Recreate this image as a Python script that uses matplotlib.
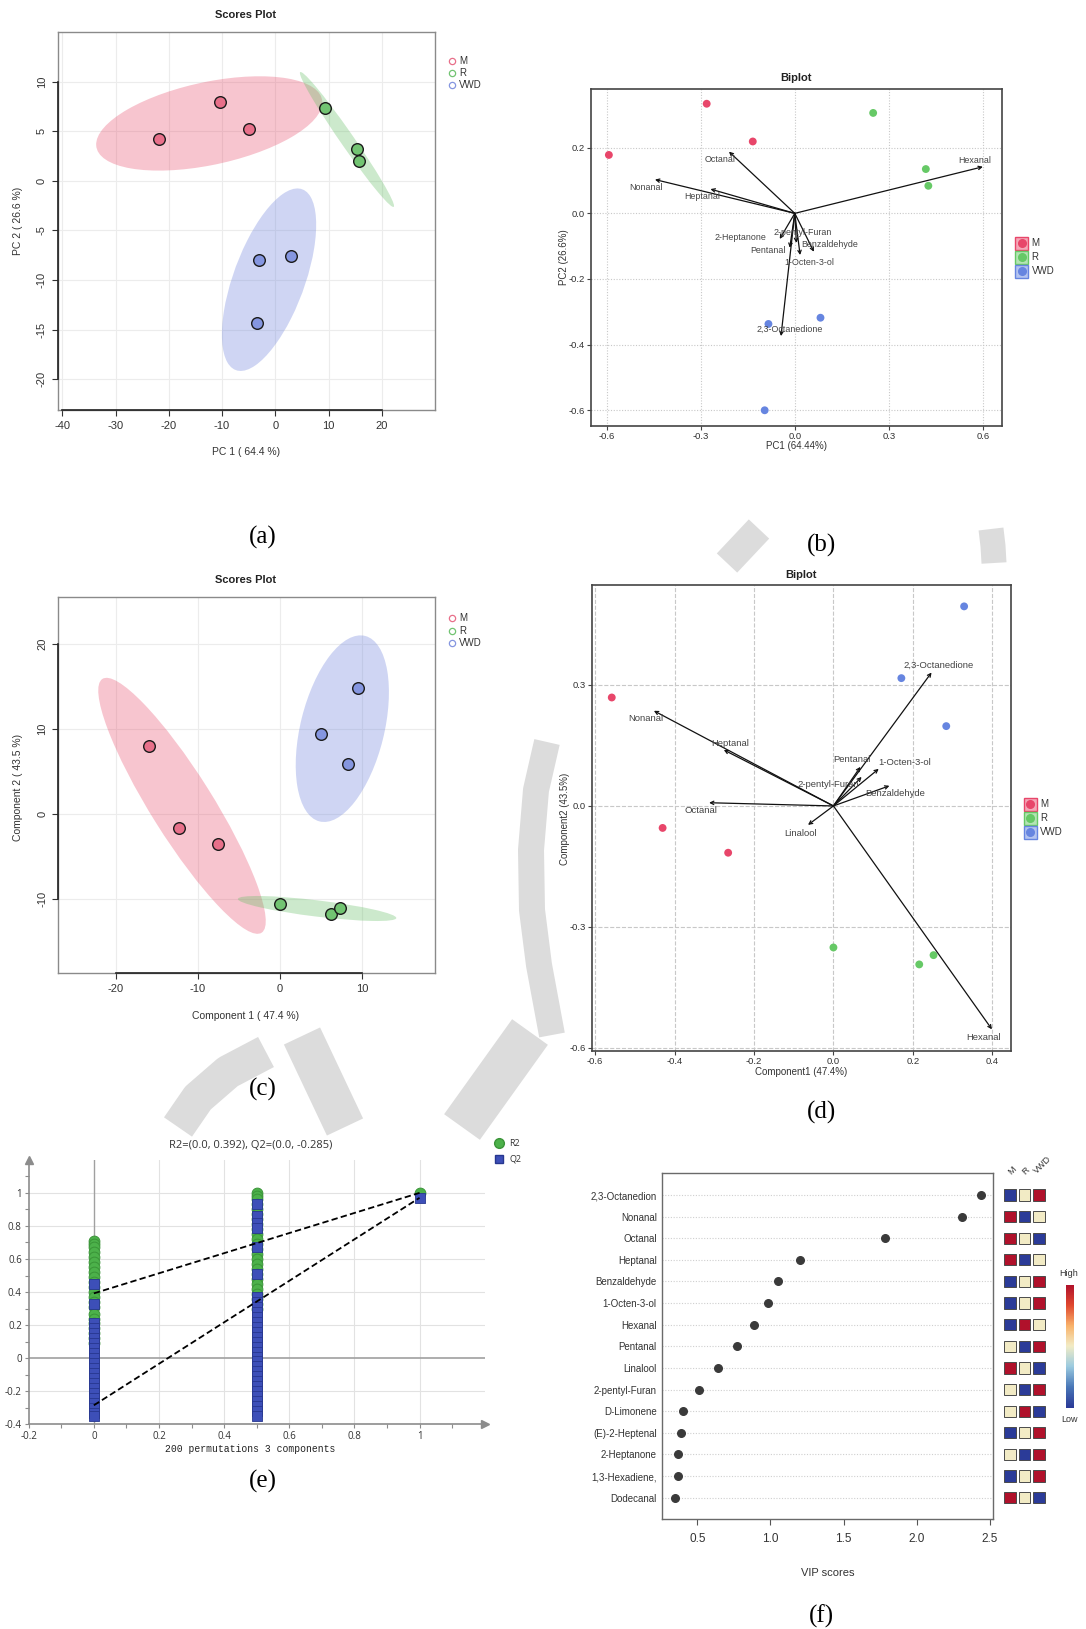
import numpy as np
import matplotlib
matplotlib.use('Agg')
import matplotlib.pyplot as plt
from matplotlib.patches import Ellipse, Rectangle, Polygon
from matplotlib.lines import Line2D
from matplotlib.colors import LinearSegmentedColormap

plt.rcParams['font.family'] = ['Liberation Sans', 'DejaVu Sans']

# ---------------- data ----------------
groups = ['M', 'R', 'VWD']

# (a) PCA scores plot
a_x = {'M': [-21.9, -10.4, -4.9], 'R': [9.3, 15.4, 15.7], 'VWD': [-3.0, 3.0, -3.5]}
a_y = {'M': [4.2, 7.95, 5.2], 'R': [7.3, 3.2, 2.0], 'VWD': [-8.0, -7.6, -14.3]}

# (b) PCA biplot
b_x = {'M': [-0.593, -0.281, -0.134], 'R': [0.25, 0.418, 0.426], 'VWD': [-0.084, 0.082, -0.096]}
b_y = {'M': [0.178, 0.334, 0.219], 'R': [0.306, 0.135, 0.084], 'VWD': [-0.337, -0.318, -0.6]}
b_names = ['Hexanal', 'Octanal', 'Nonanal', 'Heptanal', '2-Heptanone', '2-pentyl-Furan',
           'Pentanal', 'Benzaldehyde', '1-Octen-3-ol', '2,3-Octanedione']
b_load_x = [0.6, -0.21, -0.446, -0.269, -0.048, 0.005, -0.016, 0.061, 0.017, -0.044]
b_load_y = [0.142, 0.188, 0.103, 0.074, -0.078, -0.09, -0.105, -0.117, -0.127, -0.374]

# (c) PLS-DA scores plot
c_x = {'M': [-15.9, -12.3, -7.6], 'R': [0.0, 6.2, 7.3], 'VWD': [9.5, 5.0, 8.2]}
c_y = {'M': [8.0, -1.6, -3.45], 'R': [-10.5, -11.7, -11.05], 'VWD': [14.8, 9.45, 5.9]}

# (d) PLS-DA biplot
d_x = {'M': [-0.558, -0.430, -0.265], 'R': [0.0, 0.216, 0.252], 'VWD': [0.329, 0.171, 0.284]}
d_y = {'M': [0.269, -0.0545, -0.116], 'R': [-0.351, -0.393, -0.370], 'VWD': [0.495, 0.317, 0.198]}
d_names = ['2,3-Octanedione', 'Nonanal', 'Heptanal', 'Pentanal', '1-Octen-3-ol',
           '2-pentyl-Furan', 'Benzaldehyde', 'Octanal', 'Linalool', 'Hexanal']
d_load_x = [0.247, -0.452, -0.276, 0.068, 0.114, 0.071, 0.141, -0.313, -0.064, 0.399]
d_load_y = [0.331, 0.236, 0.139, 0.097, 0.092, 0.072, 0.05, 0.008, -0.047, -0.554]

# (e) permutation test
perm_R2_x0 = [0.71, 0.69, 0.67, 0.64, 0.61, 0.58, 0.55, 0.52, 0.49, 0.46, 0.43, 0.40, 0.37,
              0.34, 0.31, 0.27, 0.24, 0.21, 0.18, 0.15, 0.12, 0.09]
perm_Q2_x0 = [0.45, 0.33, 0.21, 0.18, 0.15, 0.12, 0.09, 0.06, 0.03, 0.0, -0.03, -0.06, -0.09,
              -0.12, -0.15, -0.18, -0.21, -0.24, -0.27, -0.30, -0.33, -0.35]
perm_R2_x05 = [1.0, 0.98, 0.96, 0.93, 0.90, 0.87, 0.84, 0.81, 0.78, 0.75, 0.72, 0.69, 0.66,
               0.63, 0.60, 0.57, 0.54, 0.51, 0.48, 0.45, 0.42, 0.39, 0.36, 0.33, 0.30]
perm_Q2_x05 = [0.93, 0.86, 0.82, 0.79, 0.67, 0.51, 0.37, 0.34, 0.31, 0.28, 0.25, 0.22, 0.19,
               0.16, 0.13, 0.10, 0.07, 0.04, 0.01, -0.02, -0.05, -0.08, -0.11, -0.14, -0.17,
               -0.20, -0.23, -0.26, -0.29, -0.32, -0.35]
orig_R2, orig_Q2 = 1.0, 0.97
R2_intercept, Q2_intercept = 0.392, -0.285

# (f) VIP scores
vip_names = ['2,3-Octanedion', 'Nonanal', 'Octanal', 'Heptanal', 'Benzaldehyde', '1-Octen-3-ol',
             'Hexanal', 'Pentanal', 'Linalool', '2-pentyl-Furan', 'D-Limonene', '(E)-2-Heptenal',
             '2-Heptanone', '1,3-Hexadiene,', 'Dodecanal']
vip_scores = [2.44, 2.31, 1.78, 1.20, 1.05, 0.985, 0.885, 0.773, 0.644, 0.514, 0.40, 0.389,
              0.368, 0.365, 0.346]
# relative level per group (0 = low, 1 = mid, 2 = high) for M, R, VWD
vip_levels = [[0, 1, 2], [2, 0, 1], [2, 1, 0], [2, 0, 1], [0, 1, 2], [0, 1, 2], [0, 2, 1],
              [1, 0, 2], [2, 1, 0], [1, 0, 2], [1, 2, 0], [0, 1, 2], [1, 0, 2], [0, 1, 2],
              [2, 1, 0]]

# ---------------- styles ----------------
W, H = 1086, 1629
fig = plt.figure(figsize=(W / 100, H / 100), dpi=100)

def axbox(l, t, r, b):
    return fig.add_axes([l / W, 1 - b / H, (r - l) / W, (b - t) / H])

def ftext(x, y, s, **kw):
    return fig.text(x / W, 1 - y / H, s, **kw)

def fmark(x, y, **kw):
    fig.add_artist(Line2D([x / W], [1 - y / H], transform=fig.transFigure, **kw))

# light grey page watermark strokes (decoration behind the panels)
def wm_stroke(pts, width):
    xs = [p[0] / W for p in pts]
    ys = [1 - p[1] / H for p in pts]
    ln = Line2D(xs, ys, transform=fig.transFigure, color='#dcdcdc', lw=width * 0.72,
                solid_capstyle='butt', solid_joinstyle='round', zorder=-5)
    fig.add_artist(ln)

wm_stroke([(727, 563), (759, 529)], 28)
wm_stroke([(991, 529), (993, 546), (994, 563)], 25)
wm_stroke([(547, 742), (536, 790), (531, 850), (532, 910), (539, 965), (552, 1035)], 26)
wm_stroke([(178, 1127), (198, 1098), (228, 1072), (266, 1052)], 34)
wm_stroke([(302, 1036), (345, 1127)], 40)
wm_stroke([(530, 1032), (462, 1127)], 44)

score_pt = {'M': '#e8708a', 'R': '#72c472', 'VWD': '#8596e0'}
score_fill = {'M': '#e8506e', 'R': '#64be64', 'VWD': '#6e82dc'}
bi_pt = {'M': '#e8466a', 'R': '#66c966', 'VWD': '#6685e0'}
bi_fill = {'M': '#f4a8b8', 'R': '#b4e4b4', 'VWD': '#b4c4f0'}

def conf_ellipse(ax, xs, ys, color):
    xs, ys = np.asarray(xs), np.asarray(ys)
    cov = np.cov(xs, ys)
    vals, vecs = np.linalg.eigh(cov)
    order = vals.argsort()[::-1]
    vals, vecs = vals[order], vecs[:, order]
    ang = np.degrees(np.arctan2(vecs[1, 0], vecs[0, 0]))
    k = 5.991
    e = Ellipse((xs.mean(), ys.mean()), 2 * np.sqrt(k * vals[0]), 2 * np.sqrt(k * vals[1]),
                angle=ang, facecolor=color, edgecolor='none', alpha=0.33, zorder=1)
    ax.add_patch(e)

def scores_panel(box, xd, yd, xlim, ylim, xt, yt, title, xl, yl, title_xy, xl_xy, yl_xy, leg_y):
    ax = axbox(*box)
    ax.set_xlim(*xlim); ax.set_ylim(*ylim)
    for s in ax.spines.values():
        s.set_color('#8a8a8a'); s.set_linewidth(1.0)
    ax.set_xticks(xt); ax.set_yticks(yt)
    ax.set_xticklabels([str(v) for v in xt], fontsize=8, color='#333333')
    ax.set_yticklabels([str(v) for v in yt], fontsize=8, color='#333333', rotation=90, va='center')
    ax.tick_params(direction='out', length=4, width=0.8, color='#333333', pad=4)
    ax.grid(True, color='#ececec', lw=0.8)
    ax.set_axisbelow(True)
    ax.plot([xt[0], xt[-1]], [0, 0], transform=ax.get_xaxis_transform(), color='#222222', lw=1.2, clip_on=False, zorder=6)
    ax.plot([0, 0], [yt[0], yt[-1]], transform=ax.get_yaxis_transform(), color='#222222', lw=1.2, clip_on=False, zorder=6)
    for g in groups:
        conf_ellipse(ax, xd[g], yd[g], score_fill[g])
    for g in groups:
        ax.scatter(xd[g], yd[g], s=70, facecolor=score_pt[g], edgecolor='#1a1a1a', lw=1.0, zorder=4)
    ftext(*title_xy, title, fontsize=8, fontweight='bold', ha='center', va='center', color='#222222')
    ftext(*xl_xy, xl, fontsize=7.5, ha='center', va='center', color='#333333')
    ftext(*yl_xy, yl, fontsize=7.5, ha='center', va='center', rotation=90, color='#333333')
    for g, yy in zip(groups, leg_y):
        fmark(452, yy, marker='o', markersize=4.5, markerfacecolor='none',
              markeredgecolor=score_pt[g], markeredgewidth=0.9, linestyle='none')
        ftext(459, yy, g, fontsize=7, ha='left', va='center', color='#333333')
    return ax

def biplot_panel(box, xd, yd, names, lx, ly, lpos, xlim, ylim, xt, yt, xtl, ytl, gridls,
                 title_xy, xl, xl_xy, yl, yl_xy, leg_x, leg_y, lfs):
    ax = axbox(*box)
    ax.set_xlim(*xlim); ax.set_ylim(*ylim)
    for s in ax.spines.values():
        s.set_color('#444444'); s.set_linewidth(1.2)
    ax.set_xticks(xt); ax.set_yticks(yt)
    ax.set_xticklabels(xtl, fontsize=6.8, color='#333333')
    ax.set_yticklabels(ytl, fontsize=6.8, color='#333333')
    ax.tick_params(direction='out', length=3, width=0.8, color='#444444', pad=1.5)
    ax.grid(True, color='#c8c8c8', lw=0.8, ls=gridls)
    ax.set_axisbelow(True)
    for g in groups:
        ax.scatter(xd[g], yd[g], s=32, color=bi_pt[g], edgecolor='none', zorder=3)
    for n, x, y, (tx, ty) in zip(names, lx, ly, lpos):
        ax.annotate('', xy=(x, y), xytext=(0, 0),
                    arrowprops=dict(arrowstyle='->', lw=0.9, color='#111111',
                                    shrinkA=0, shrinkB=0, mutation_scale=6), zorder=4)
        ax.text(tx, ty, n, fontsize=lfs, color='#444444', ha='center', va='center', zorder=5)
    ftext(*title_xy, 'Biplot', fontsize=8, fontweight='bold', ha='center', va='center', color='#222222')
    ftext(*xl_xy, xl, fontsize=7, ha='center', va='center', color='#333333')
    ftext(*yl_xy, yl, fontsize=7, ha='center', va='center', rotation=90, color='#333333')
    for g, yy in zip(groups, leg_y):
        fig.add_artist(Rectangle(((leg_x - 6.5) / W, 1 - (yy + 6.5) / H), 13 / W, 13 / H,
                                 transform=fig.transFigure, facecolor=bi_fill[g],
                                 edgecolor=bi_pt[g], lw=1.0))
        fmark(leg_x, yy, marker='o', markersize=5.5, color=bi_pt[g], linestyle='none')
        ftext(leg_x + 10, yy, g, fontsize=7, ha='left', va='center', color='#333333')
    return ax

# ---------------- (a) ----------------
scores_panel((58, 32, 435, 410), a_x, a_y, (-40.8, 30), (-23.1, 15),
             [-40, -30, -20, -10, 0, 10, 20], [-20, -15, -10, -5, 0, 5, 10],
             'Scores Plot', 'PC 1 ( 64.4 %)', 'PC 2 ( 26.6 %)',
             (246, 15), (246, 452), (18, 221), [61, 73, 85])

# ---------------- (b) ----------------
b_lpos = [(0.574, 0.162), (-0.239, 0.165), (-0.473, 0.08), (-0.296, 0.05), (-0.172, -0.075),
          (0.025, -0.057), (-0.085, -0.113), (0.11, -0.095), (0.046, -0.15), (-0.016, -0.353)]
biplot_panel((591, 89.3, 1001.7, 425.7), b_x, b_y, b_names, b_load_x, b_load_y, b_lpos,
             (-0.65, 0.66), (-0.647, 0.378), [-0.6, -0.3, 0.0, 0.3, 0.6], [-0.6, -0.4, -0.2, 0.0, 0.2],
             ['-0.6', '-0.3', '0.0', '0.3', '0.6'], ['-0.6', '-0.4', '-0.2', '0.0', '0.2'],
             (0, (1, 1.5)), (796, 77.7), 'PC1 (64.44%)', (796, 446), 'PC2 (26.6%)', (564, 257),
             1021.7, [243, 257.3, 271.3], 6.4)

# ---------------- (c) ----------------
scores_panel((58.3, 597.3, 435, 973.3), c_x, c_y, (-26.98, 18.84), (-18.7, 25.49),
             [-20, -10, 0, 10], [-10, 0, 10, 20],
             'Scores Plot', 'Component 1 ( 47.4 %)', 'Component 2 ( 43.5 %)',
             (246, 580), (246, 1016), (18, 787), [618.3, 630.7, 642.7])

# ---------------- (d) ----------------
d_lpos = [(0.265, 0.350), (-0.473, 0.216), (-0.261, 0.156), (0.047, 0.116), (0.179, 0.108),
          (-0.012, 0.052), (0.156, 0.031), (-0.333, -0.012), (-0.083, -0.069), (0.378, -0.574)]
biplot_panel((592.3, 585, 1011, 1050.7), d_x, d_y, d_names, d_load_x, d_load_y, d_lpos,
             (-0.607, 0.447), (-0.607, 0.548), [-0.6, -0.4, -0.2, 0.0, 0.2, 0.4], [-0.6, -0.3, 0.0, 0.3],
             ['-0.6', '-0.4', '-0.2', '0.0', '0.2', '0.4'], ['-0.6', '-0.3', '0.0', '0.3'],
             '--', (801, 575), 'Component1 (47.4%)', (801.5, 1072), 'Component2 (43.5%)', (565, 819),
             1030, [804.3, 818.3, 832.3], 6.8)

# ---------------- (e) ----------------
ax = axbox(28.7, 1159.8, 484.7, 1424.3)
ax.set_xlim(-0.2, 1.2); ax.set_ylim(-0.4, 1.2)
ax.spines['top'].set_visible(False); ax.spines['right'].set_visible(False)
for s in ('left', 'bottom'):
    ax.spines[s].set_color('#8c8c8c'); ax.spines[s].set_linewidth(1.2)
xt = [-0.2, 0, 0.2, 0.4, 0.6, 0.8, 1]
yt = [-0.4, -0.2, 0, 0.2, 0.4, 0.6, 0.8, 1]
ax.set_xticks(xt); ax.set_yticks(yt)
ax.set_xticklabels(['-0.2', '0', '0.2', '0.4', '0.6', '0.8', '1'], fontsize=7, color='#333333', family=['Open Sans', 'DejaVu Sans'])
ax.set_yticklabels(['-0.4', '-0.2', '0', '0.2', '0.4', '0.6', '0.8', '1'], fontsize=7, color='#333333', family=['Open Sans', 'DejaVu Sans'])
ax.set_xticks(np.arange(-0.2, 1.15, 0.1), minor=True)
ax.set_yticks(np.arange(-0.4, 1.15, 0.1), minor=True)
ax.tick_params(which='both', direction='out', color='#8c8c8c', length=3, width=0.8, pad=2)
for v in [-0.2, 0.2, 0.4, 0.6, 0.8, 1.0]:
    ax.plot([-0.2, 1.2], [v, v], color='#e2e2e2', lw=0.8, zorder=0)
for v in [0.2, 0.4, 0.6, 0.8, 1.0]:
    ax.plot([v, v], [-0.4, 1.2], color='#e2e2e2', lw=0.8, zorder=0)
ax.plot([-0.2, 1.2], [0, 0], color='#a0a0a0', lw=1.2, zorder=1)
ax.plot([0, 0], [-0.4, 1.2], color='#a0a0a0', lw=1.0, zorder=1)
ax.plot([1.2], [-0.4], marker='>', color='#8c8c8c', markersize=6, clip_on=False)
ax.plot([-0.2], [1.2], marker='^', color='#8c8c8c', markersize=6, clip_on=False)
gc, ge = '#4cb14a', '#3a9438'
bc, be = '#3d4fb8', '#27378f'
ax.scatter(np.zeros(len(perm_R2_x0)), perm_R2_x0, s=60, marker='o', facecolor=gc, edgecolor=ge, lw=0.7, zorder=3)
ax.scatter(np.full(len(perm_R2_x05), 0.5), perm_R2_x05, s=60, marker='o', facecolor=gc, edgecolor=ge, lw=0.7, zorder=3)
ax.scatter([1.0], [orig_R2], s=60, marker='o', facecolor=gc, edgecolor=ge, lw=0.7, zorder=3)
ax.scatter(np.zeros(len(perm_Q2_x0)), perm_Q2_x0, s=48, marker='s', facecolor=bc, edgecolor=be, lw=0.6, zorder=4)
ax.scatter(np.full(len(perm_Q2_x05), 0.5), perm_Q2_x05, s=48, marker='s', facecolor=bc, edgecolor=be, lw=0.6, zorder=4)
ax.scatter([1.0], [orig_Q2], s=48, marker='s', facecolor=bc, edgecolor=be, lw=0.6, zorder=4)
ax.plot([0, 1], [R2_intercept, orig_R2], color='black', lw=1.3, ls=(0, (3.5, 1.8)), zorder=5)
ax.plot([0, 1], [Q2_intercept, orig_Q2], color='black', lw=1.3, ls=(0, (3.5, 1.8)), zorder=5)
ftext(251, 1145, 'R2=(0.0, 0.392), Q2=(0.0, -0.285)', fontsize=8, ha='center', va='center',
      color='#333333', family=['Open Sans', 'DejaVu Sans'])
ftext(250, 1449, '200 permutations 3 components', fontsize=7, ha='center', va='center',
      color='#222222', family=['Liberation Mono', 'DejaVu Sans Mono'])
fmark(499.3, 1143.3, marker='o', markersize=7, markerfacecolor=gc, markeredgecolor=ge, linestyle='none')
fmark(499.3, 1159.3, marker='s', markersize=6, markerfacecolor=bc, markeredgecolor=be, linestyle='none')
ftext(509, 1143.3, 'R2', fontsize=6.5, ha='left', va='center', color='#333333', family=['Open Sans', 'DejaVu Sans'])
ftext(509, 1159.3, 'Q2', fontsize=6.5, ha='left', va='center', color='#333333', family=['Open Sans', 'DejaVu Sans'])

# ---------------- (f) ----------------
ax = axbox(662.3, 1173.3, 993.3, 1519)
rows = np.arange(len(vip_names))
ax.set_xlim(0.261, 2.523); ax.set_ylim(14.985, -1.004)
for s in ax.spines.values():
    s.set_color('#6a6a6a'); s.set_linewidth(1.0)
for r in rows:
    ax.axhline(r, color='#cfcfcf', lw=0.8, ls=(0, (1, 1.5)), zorder=0)
ax.scatter(vip_scores, rows, s=30, color='#3a3a3a', zorder=3)
ax.set_yticks(rows)
ax.set_yticklabels(vip_names, fontsize=7, color='#333333')
ax.set_xticks([0.5, 1.0, 1.5, 2.0, 2.5])
ax.set_xticklabels(['0.5', '1.0', '1.5', '2.0', '2.5'], fontsize=8.5, color='#333333')
ax.tick_params(axis='y', length=0, pad=4)
ax.tick_params(axis='x', direction='out', length=4, width=0.8, color='#555555', pad=6)
ftext(828, 1573, 'VIP scores', fontsize=8, ha='center', va='center', color='#333333')

cmap = LinearSegmentedColormap.from_list('vip', ['#2b3b98', '#4a78b8', '#9ccbe0', '#f2ecc6',
                                                  '#f9b26a', '#e0482f', '#b0112b'])
axh = axbox(1002.7, 1173.3, 1046.3, 1519)
axh.set_xlim(-0.5, 2.5); axh.set_ylim(14.985, -1.004)
axh.axis('off')
for i, lv in enumerate(vip_levels):
    for j, v in enumerate(lv):
        axh.add_patch(Rectangle((j - 0.4, i - 0.26), 0.8, 0.52, facecolor=cmap(v / 2.0),
                                edgecolor='#4a4a4a', lw=0.7))
for g, (x, y) in zip(groups, [(1011.7, 1170.5), (1026, 1170.5), (1042.5, 1165)]):
    ftext(x, y, g, fontsize=6.5, rotation=45, ha='center', va='center', color='#333333')
cax = axbox(1065.7, 1285, 1073.3, 1408)
cax.imshow(np.linspace(0, 1, 100).reshape(-1, 1), aspect='auto', cmap=cmap, origin='lower')
cax.axis('off')
ftext(1069, 1273, 'High', fontsize=6.5, ha='center', va='center', color='#333333')
ftext(1069, 1419, 'Low', fontsize=6.5, ha='center', va='center', color='#333333')

# ---------------- panel labels ----------------
for lab, (x, y) in zip(['(a)', '(b)', '(c)', '(d)', '(e)', '(f)'],
                       [(263, 537), (821, 545), (263, 1089), (821, 1112), (263, 1481), (821, 1616)]):
    ftext(x, y, lab, fontsize=18, ha='center', va='center', family=['Liberation Serif', 'DejaVu Serif'])

fig.savefig('out.png', dpi=100)
